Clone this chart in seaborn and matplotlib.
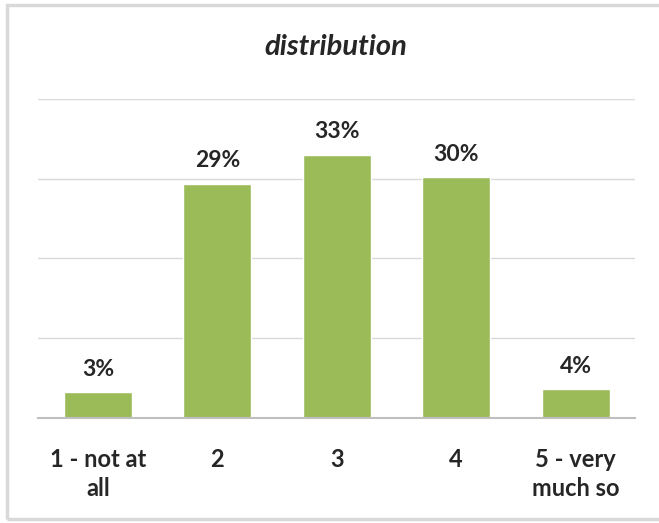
import matplotlib
matplotlib.use("Agg")
import matplotlib.pyplot as plt
import seaborn as sns
import pandas as pd
from matplotlib.patches import Rectangle

categories = ["1 - not at\nall", "2", "3", "4", "5 - very\nmuch so"]
shares = [0.032, 0.294, 0.33, 0.302, 0.036]
value_labels = ["3%", "29%", "33%", "30%", "4%"]

sns.set_style("white")
plt.rcParams["font.family"] = ["Lato", "DejaVu Sans"]

df = pd.DataFrame({"answer": categories, "share": shares})

fig = plt.figure(figsize=(6.59, 5.23), dpi=100)
ax = fig.add_axes([0.058, 0.2008, 0.906, 0.6099])

sns.barplot(data=df, x="answer", y="share", color="#9bbb59", saturation=1,
            width=0.57, ax=ax)

ax.set_ylim(0, 0.40)
ax.set_xlim(-0.5, 4.5)
ax.set_yticks([0.1, 0.2, 0.3, 0.4])
ax.yaxis.grid(True, color="#d9d9d9", linewidth=1)
ax.set_axisbelow(True)
ax.tick_params(axis="y", left=False, labelleft=False)
ax.tick_params(axis="x", bottom=False, pad=18)
for lab in ax.get_xticklabels():
    lab.set_fontsize(17)
    lab.set_fontweight("bold")
    lab.set_linespacing(1.35)
ax.set_xlabel("")
ax.set_ylabel("")
for side in ["top", "right", "left"]:
    ax.spines[side].set_visible(False)
ax.spines["bottom"].set_color("#bfbfbf")
ax.spines["bottom"].set_linewidth(1.5)

for i, (v, t) in enumerate(zip(shares, value_labels)):
    ax.annotate(t, (i, v), xytext=(0, 9), textcoords="offset points",
                ha="center", va="bottom", fontsize=16.5, fontweight="bold")

fig.text(0.51, 0.91, "distribution", ha="center", va="center",
         fontsize=21, fontstyle="italic", fontweight="bold")

fig.patches.append(Rectangle((7 / 659, 4 / 523), 1.1, 514 / 523,
                             transform=fig.transFigure, fill=False,
                             edgecolor="#d9d9d9", linewidth=2.5))

fig.savefig("out.png", dpi=100)
